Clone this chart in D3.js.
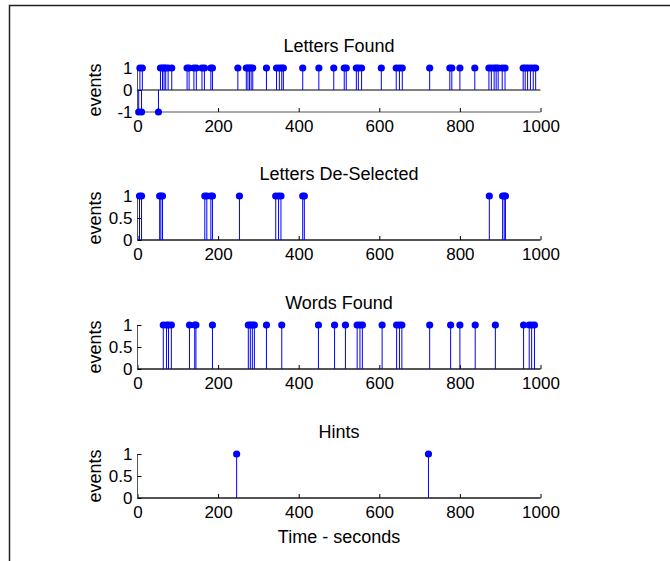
<!DOCTYPE html>
<html>
<head>
<meta charset="utf-8">
<script src="https://cdn.jsdelivr.net/npm/d3@7"></script>
<style>
  html, body { margin: 0; padding: 0; background: #fff; }
  text { font-family: "Liberation Sans", Arial, Helvetica, sans-serif; fill: #000; }
</style>
</head>
<body>
<div id="chart"></div>
<script>
// event times (seconds)
const lettersFoundTimes = [3, 10, 52, 6, 12, 57, 62, 66, 70, 76, 85, 123, 128, 140, 146, 160, 166, 182, 186,
    249, 270, 274, 278, 282, 286, 320, 345, 352, 358, 362, 410, 450, 487, 513, 518, 543, 548, 556,
    605, 642, 650, 657, 725, 775, 780, 800, 837, 872, 878, 885, 890, 895, 905, 912, 957, 962, 968, 975, 982, 988];
const lettersFoundValues = [-1, -1, -1, 1, 1, 1, 1, 1, 1, 1, 1, 1, 1, 1, 1, 1, 1, 1, 1,
    1, 1, 1, 1, 1, 1, 1, 1, 1, 1, 1, 1, 1, 1, 1, 1, 1, 1, 1,
    1, 1, 1, 1, 1, 1, 1, 1, 1, 1, 1, 1, 1, 1, 1, 1, 1, 1, 1, 1, 1, 1];

const deselectedTimes = [5, 10, 55, 58, 62, 167, 172, 182, 186, 253, 343, 350, 356, 410, 414, 873, 906, 910, 913];
const deselectedValues = [1, 1, 1, 1, 1, 1, 1, 1, 1, 1, 1, 1, 1, 1, 1, 1, 1, 1, 1];

const wordsTimes = [64, 72, 77, 84, 129, 142, 145, 186, 275, 280, 285, 290, 320, 358, 449, 489, 516,
    545, 552, 558, 607, 643, 650, 656, 725, 777, 800, 838, 888, 958, 972, 978, 985];
const wordsValues = [1, 1, 1, 1, 1, 1, 1, 1, 1, 1, 1, 1, 1, 1, 1, 1, 1,
    1, 1, 1, 1, 1, 1, 1, 1, 1, 1, 1, 1, 1, 1, 1, 1];

const hintsTimes = [246, 722];
const hintsValues = [1, 1];

const xTicks = [0, 200, 400, 600, 800, 1000];
const yTicksSigned = [-1, 0, 1];
const yTicksUnit = [0, 0.5, 1];

const width = 670;
const height = 561;
const blue = "#0000ff";

const svg = d3.select("#chart")
    .append("svg")
    .attr("width", width)
    .attr("height", height);

// figure frame
svg.append("path")
    .attr("d", "M9.5," + height + "V5.5H" + width)
    .attr("fill", "none")
    .attr("stroke", "#222")
    .attr("stroke-width", 1.5);

const x = d3.scaleLinear().domain([0, 1000]).range([137.5, 540.5]);

// plain hyphen minus like the original
const fmt = d => String(d);

function drawPanel(top, title, times, values, yDomain, yTicks, xLabel) {
    const y = d3.scaleLinear().domain(yDomain).range([top + 44, top]);
    const g = svg.append("g");
    const bottom = y(yDomain[0]);

    // x axis (ticks point inward)
    g.append("g")
        .attr("transform", "translate(0," + bottom + ")")
        .call(d3.axisBottom(x).tickValues(xTicks).tickSize(-4).tickPadding(8).tickFormat(fmt))
        .call(a => a.select(".domain").attr("stroke", "#555").attr("d", "M" + x(0) + ",0H" + x(1000)))
        .call(a => a.selectAll(".tick line").attr("stroke", "#000"))
        .call(a => a.selectAll(".tick text").style("font-size", "17px"));

    // y axis
    g.append("g")
        .attr("transform", "translate(" + x(0) + ",0)")
        .call(d3.axisLeft(y).tickValues(yTicks).tickSize(-4).tickPadding(5).tickFormat(fmt))
        .call(a => a.select(".domain").attr("stroke", "#555").attr("d", "M0," + y(yDomain[1]) + "V" + bottom))
        .call(a => a.selectAll(".tick line").attr("stroke", "#000"))
        .call(a => a.selectAll(".tick text").style("font-size", "17px"));

    // stem baseline
    g.append("line")
        .attr("x1", x(0)).attr("x2", x(1000))
        .attr("y1", y(0)).attr("y2", y(0))
        .attr("stroke", "#000")
        .attr("stroke-width", 1);

    const pts = times.map((t, i) => ({t: t, v: values[i]}));

    g.append("g")
        .selectAll("line")
        .data(pts)
        .enter()
        .append("line")
        .attr("x1", d => x(d.t)).attr("x2", d => x(d.t))
        .attr("y1", y(0)).attr("y2", d => y(d.v))
        .attr("stroke", blue)
        .attr("stroke-width", 1);

    g.append("g")
        .selectAll("circle")
        .data(pts)
        .enter()
        .append("circle")
        .attr("cx", d => x(d.t))
        .attr("cy", d => y(d.v))
        .attr("r", 3.6)
        .attr("fill", blue);

    // title
    g.append("text")
        .attr("x", (x(0) + x(1000)) / 2)
        .attr("y", top - 16)
        .attr("text-anchor", "middle")
        .style("font-size", "18px")
        .text(title);

    // y label
    g.append("text")
        .attr("transform", "translate(101," + (top + 22) + ") rotate(-90)")
        .attr("text-anchor", "middle")
        .style("font-size", "18px")
        .text("events");

    if (xLabel) {
        g.append("text")
            .attr("x", (x(0) + x(1000)) / 2)
            .attr("y", bottom + 45)
            .attr("text-anchor", "middle")
            .style("font-size", "18px")
            .text(xLabel);
    }
}

drawPanel(68, "Letters Found", lettersFoundTimes, lettersFoundValues, [-1, 1], yTicksSigned);
drawPanel(196, "Letters De-Selected", deselectedTimes, deselectedValues, [0, 1], yTicksUnit);
drawPanel(325, "Words Found", wordsTimes, wordsValues, [0, 1], yTicksUnit);
drawPanel(454, "Hints", hintsTimes, hintsValues, [0, 1], yTicksUnit, "Time - seconds");
</script>
</body>
</html>
